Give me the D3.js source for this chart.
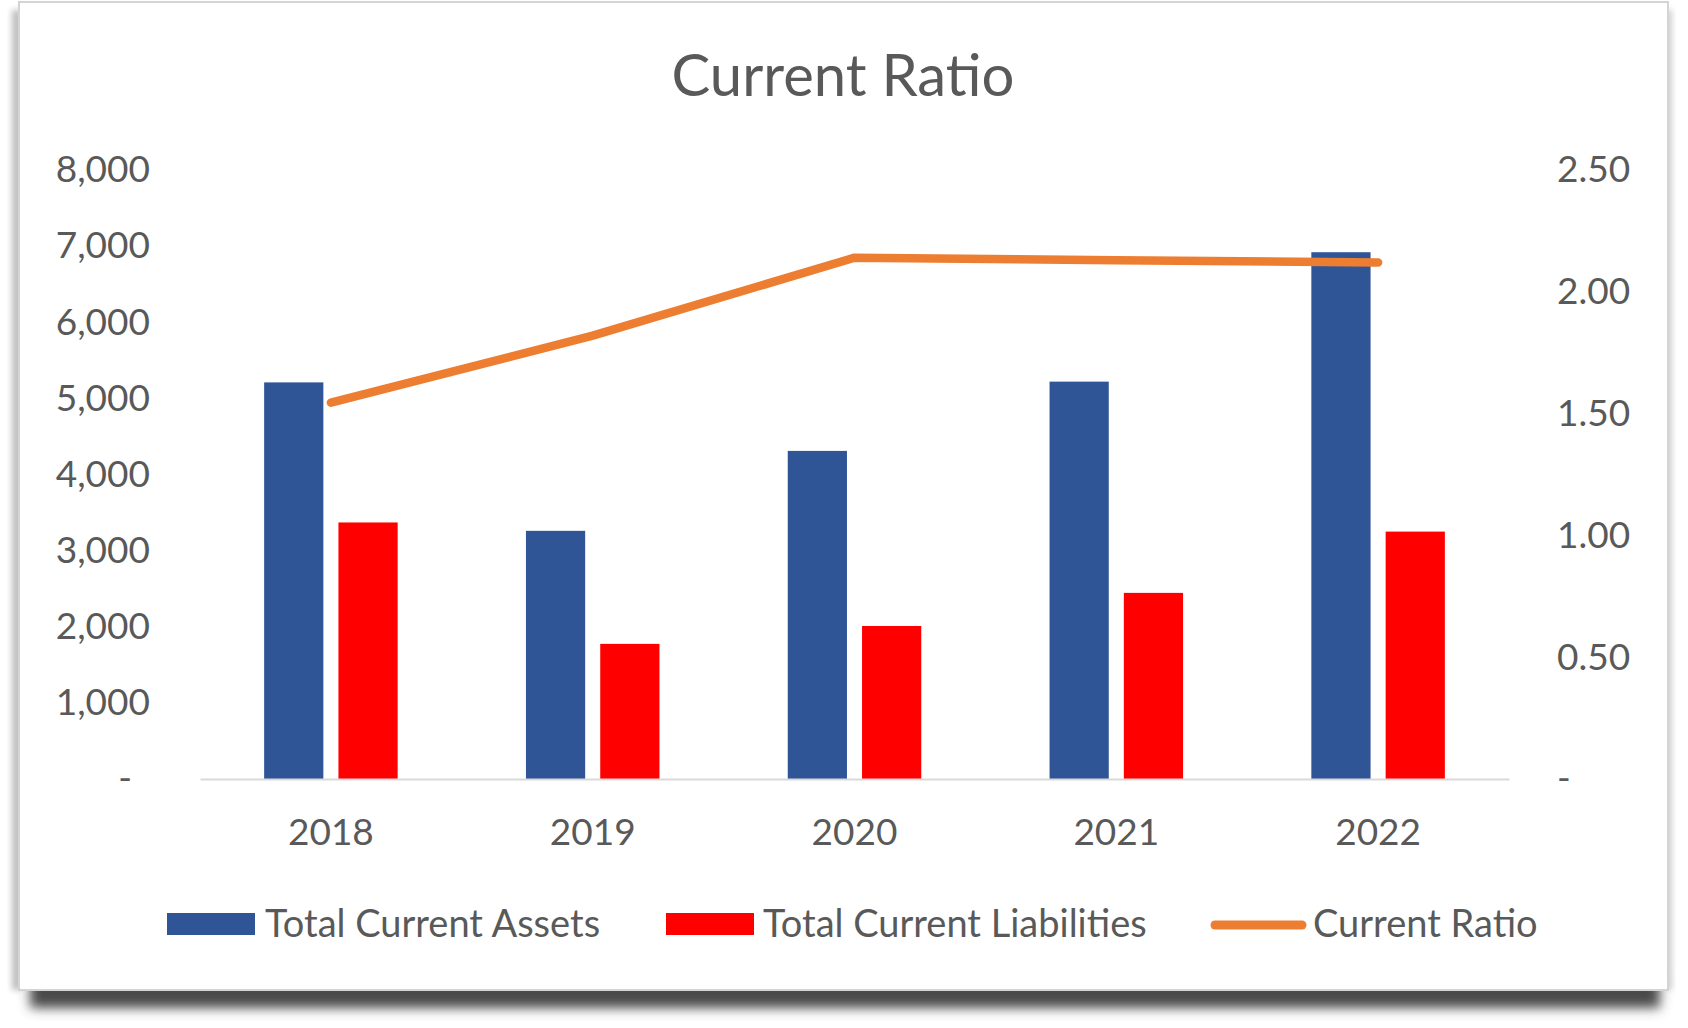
<!DOCTYPE html>
<html>
<head>
<meta charset="utf-8">
<script src="https://cdn.jsdelivr.net/npm/d3@7"></script>
<style>
  html, body { margin: 0; padding: 0; background: #ffffff; }
  svg { display: block; }
  text { font-family: Lato, "Open Sans", sans-serif; fill: #595959; }
</style>
</head>
<body>
<svg id="chart" width="1688" height="1028"></svg>
<script>
// ---- data ----
const years = ["2018", "2019", "2020", "2021", "2022"];
const seriesNames = ["Total Current Assets", "Total Current Liabilities", "Current Ratio"];
const totalCurrentAssets = [5210, 3260, 4310, 5220, 6920];
const totalCurrentLiabilities = [3370, 1775, 2010, 2445, 3250];
const currentRatio = [1.545, 1.82, 2.14, 2.13, 2.12];
const leftTicks = [0, 1000, 2000, 3000, 4000, 5000, 6000, 7000, 8000];
const rightTicks = [0, 0.5, 1.0, 1.5, 2.0, 2.5];
const titleText = "Current Ratio";

// ---- styles ----
const colors = { assets: "#2F5597", liabilities: "#FF0000", ratio: "#ED7D31" };

const svg = d3.select("#chart");

// card shadow
const defs = svg.append("defs");
const blur = defs.append("filter").attr("id", "blur").attr("x", "-10%").attr("y", "-50%").attr("width", "120%").attr("height", "200%");
blur.append("feGaussianBlur").attr("stdDeviation", 6);
const blurSide = defs.append("filter").attr("id", "blurSide").attr("x", "-50%").attr("y", "-10%").attr("width", "200%").attr("height", "120%");
blurSide.append("feGaussianBlur").attr("stdDeviation", 3);

svg.append("rect").attr("x", 30).attr("y", 978).attr("width", 1630).attr("height", 30)
  .attr("fill", "#4a4a4a").attr("filter", "url(#blur)");
svg.append("rect").attr("x", 12).attr("y", 10).attr("width", 10).attr("height", 980)
  .attr("fill", "#bdbdbd").attr("filter", "url(#blurSide)");
svg.append("rect").attr("x", 1664).attr("y", 10).attr("width", 8).attr("height", 980)
  .attr("fill", "#cfcfcf").attr("filter", "url(#blurSide)");

// card
svg.append("rect").attr("x", 19).attr("y", 2).attr("width", 1649).attr("height", 988)
  .attr("fill", "#ffffff").attr("stroke", "#d4d4d4").attr("stroke-width", 2);

// ---- scales ----
const plot = { left: 200, right: 1509, top: 170, bottom: 779 };
const x0 = d3.scaleBand().domain(years).range([plot.left, plot.right]).padding(0);
const bw = x0.bandwidth();
const x1 = d3.scaleBand().domain(["assets", "liabilities"])
  .range([bw * 0.245, bw * 0.755]).paddingInner(0.203).paddingOuter(0);
const yL = d3.scaleLinear().domain([0, 8000]).range([plot.bottom, plot.top]);
const yR = d3.scaleLinear().domain([0, 2.5]).range([plot.bottom, plot.top]);

// ---- title ----
svg.append("text").attr("x", 843).attr("y", 96).attr("text-anchor", "middle")
  .style("font-size", "58px").text(titleText);

// ---- left axis ----
const fmtL = d3.format(",");
const gL = svg.append("g").attr("transform", `translate(${plot.left - 50},0)`)
  .call(d3.axisLeft(yL).tickValues(leftTicks).tickSize(0).tickPadding(0)
    .tickFormat(d => d === 0 ? "-" : fmtL(d)));
gL.select(".domain").remove();
gL.selectAll("text").style("font-size", "37px").attr("fill", "#595959")
  .style("font-family", "Lato, sans-serif");
gL.selectAll(".tick").filter(d => d === 0).select("text").attr("dx", "-18px");

// ---- right axis ----
const fmtR = d3.format(".2f");
const gR = svg.append("g").attr("transform", `translate(1557,0)`)
  .call(d3.axisRight(yR).tickValues(rightTicks).tickSize(0).tickPadding(0)
    .tickFormat(d => d === 0 ? "-" : fmtR(d)));
gR.select(".domain").remove();
gR.selectAll("text").style("font-size", "37px").attr("fill", "#595959")
  .style("font-family", "Lato, sans-serif");

// ---- bars ----
const barData = years.map((y, i) => ({ year: y, assets: totalCurrentAssets[i], liabilities: totalCurrentLiabilities[i] }));
const groups = svg.append("g").selectAll("g").data(barData).join("g")
  .attr("transform", d => `translate(${x0(d.year)},0)`);
groups.selectAll("rect").data(d => ["assets", "liabilities"].map(k => ({ key: k, value: d[k] })))
  .join("rect")
  .attr("x", d => x1(d.key))
  .attr("width", x1.bandwidth())
  .attr("y", d => yL(d.value))
  .attr("height", d => yL(0) - yL(d.value))
  .attr("fill", d => colors[d.key]);

// ---- category axis ----
const gX = svg.append("g").attr("transform", `translate(0,${plot.bottom})`)
  .call(d3.axisBottom(x0).tickSize(0).tickPadding(40));
gX.select(".domain").attr("stroke", "#d9d9d9").attr("stroke-width", 2);
gX.selectAll("text").style("font-size", "37px").attr("fill", "#595959")
  .style("font-family", "Lato, sans-serif");

// ---- line ----
const line = d3.line()
  .x((d, i) => x0(years[i]) + bw / 2)
  .y(d => yR(d));
svg.append("path").datum(currentRatio)
  .attr("d", line)
  .attr("fill", "none")
  .attr("stroke", colors.ratio)
  .attr("stroke-width", 8.5)
  .attr("stroke-linecap", "round")
  .attr("stroke-linejoin", "round");

// ---- legend ----
const legend = svg.append("g");
const legendItems = [
  { name: seriesNames[0], type: "rect", color: colors.assets, x: 167, tx: 265 },
  { name: seriesNames[1], type: "rect", color: colors.liabilities, x: 666, tx: 763 },
  { name: seriesNames[2], type: "line", color: colors.ratio, x: 1211, tx: 1313 }
];
legendItems.forEach(it => {
  if (it.type === "rect") {
    legend.append("rect").attr("x", it.x).attr("y", 913).attr("width", 88).attr("height", 22).attr("fill", it.color);
  } else {
    legend.append("line").attr("x1", it.x + 4).attr("x2", it.x + 91).attr("y1", 925).attr("y2", 925)
      .attr("stroke", it.color).attr("stroke-width", 9).attr("stroke-linecap", "round");
  }
  legend.append("text").attr("x", it.tx).attr("y", 937).style("font-size", "38px").text(it.name);
});
</script>
</body>
</html>
